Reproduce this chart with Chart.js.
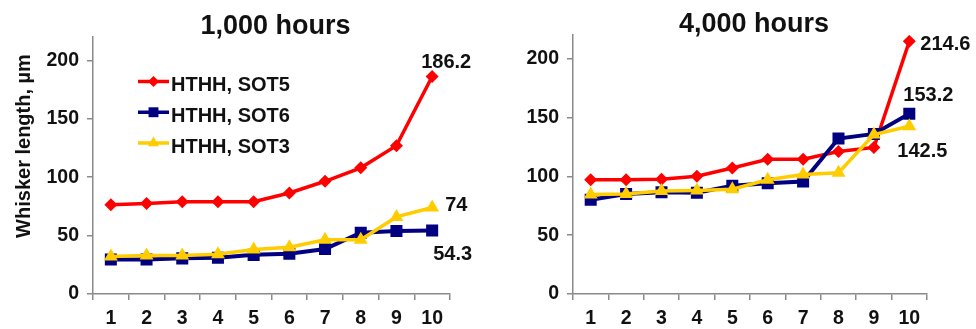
<!DOCTYPE html>
<html>
<head>
<meta charset="utf-8">
<script src="https://cdn.jsdelivr.net/npm/chart.js@4.4.1/dist/chart.umd.min.js"></script>
<style>
  html, body { margin: 0; padding: 0; background: #ffffff; }
  #wrap { display: flex; width: 976px; height: 329px; }
  canvas { display: block; }
</style>
</head>
<body>
<div id="wrap">
  <canvas id="c1000" width="488" height="329"></canvas>
  <canvas id="c4000" width="488" height="329"></canvas>
</div>
<script>
// Sample position along the x axis
const categories = ['1', '2', '3', '4', '5', '6', '7', '8', '9', '10'];
const seriesNames = ['HTHH, SOT5', 'HTHH, SOT6', 'HTHH, SOT3'];
const panelTitles = ['1,000 hours', '4,000 hours'];
const yAxisTitle = 'Whisker length, \u00b5m';
const yTickValues = [0, 50, 100, 150, 200];

// Whisker length (µm) after 1,000 hours
const sot5_1000h = [76.5, 77.5, 79, 79, 79, 86.5, 96.5, 108, 127, 186.2];
const sot6_1000h = [29.5, 29.5, 30.5, 31, 33.5, 34.5, 38.5, 52.5, 54, 54.3];
const sot3_1000h = [32, 33, 33, 34, 38, 40, 46.5, 46.5, 66, 74];

// Whisker length (µm) after 4,000 hours
const sot5_4000h = [97, 97, 97.5, 100, 107, 114.5, 114.5, 121, 124.5, 214.6];
const sot6_4000h = [80, 85, 86.5, 86, 92, 94, 95.5, 132, 136, 153.2];
const sot3_4000h = [84.5, 85, 87.5, 88, 89, 97, 101.5, 103, 135.5, 142.5];

const FONT = '"Liberation Sans", Arial, Helvetica, sans-serif';
const TEXT = '#111111';
const AXIS = '#8a8a8a';

const styles = [
  { color: '#ff0000', pointStyle: 'rectRot', radius: 6.5, width: 3.5, order: 3, legendR: 5.5 },
  { color: '#000080', pointStyle: 'rect', radius: 8.5, width: 4, order: 2, legendR: 7 },
  { color: '#ffcc00', pointStyle: 'triangle', radius: 8, width: 3.5, order: 1, legendR: 6.5 }
];

function legendMarker(ctx, style, x, y, r) {
  ctx.save();
  ctx.fillStyle = style.color;
  ctx.beginPath();
  if (style.pointStyle === 'rectRot') {
    ctx.moveTo(x, y - r); ctx.lineTo(x + r, y); ctx.lineTo(x, y + r); ctx.lineTo(x - r, y);
  } else if (style.pointStyle === 'rect') {
    const s = r * Math.SQRT1_2;
    ctx.rect(x - s, y - s, 2 * s, 2 * s);
  } else {
    const h = r * Math.sin(Math.PI / 3);
    ctx.moveTo(x, y - r); ctx.lineTo(x + h, y + r / 2); ctx.lineTo(x - h, y + r / 2);
  }
  ctx.closePath();
  ctx.fill();
  ctx.restore();
}

// Titles, axis title, inline legend and end-of-series value labels
const annotations = {
  id: 'annotations',
  afterDatasetsDraw(chart, args, opts) {
    const ctx = chart.ctx;
    const area = chart.chartArea;
    ctx.save();
    ctx.fillStyle = TEXT;

    ctx.font = 'bold 27px ' + FONT;
    ctx.textAlign = 'center';
    ctx.textBaseline = 'alphabetic';
    ctx.fillText(opts.title, (area.left + area.right) / 2 + 4, opts.titleY);

    if (opts.yTitle) {
      ctx.save();
      ctx.translate(opts.yTitleX, opts.yTitleY);
      ctx.rotate(-Math.PI / 2);
      ctx.font = 'bold 20px ' + FONT;
      ctx.textAlign = 'center';
      ctx.textBaseline = 'middle';
      ctx.fillText(opts.yTitle, 0, 0);
      ctx.restore();
    }

    if (opts.legend) {
      const lg = opts.legend;
      chart.data.datasets.forEach((ds, i) => {
        const st = styles[i];
        const y = lg.y + i * lg.gap;
        ctx.strokeStyle = st.color;
        ctx.lineWidth = 3.5;
        ctx.beginPath();
        ctx.moveTo(lg.x, y);
        ctx.lineTo(lg.x + lg.len, y);
        ctx.stroke();
        legendMarker(ctx, st, lg.x + lg.len / 2, y, st.legendR);
        ctx.fillStyle = TEXT;
        ctx.font = 'bold 20px ' + FONT;
        ctx.textAlign = 'left';
        ctx.textBaseline = 'alphabetic';
        ctx.fillText(ds.label, lg.x + lg.len + 2, y + 9.5);
      });
    }

    ctx.font = 'bold 20px ' + FONT;
    ctx.textAlign = 'left';
    ctx.textBaseline = 'alphabetic';
    ctx.fillStyle = TEXT;
    (opts.valueLabels || []).forEach(l => {
      const meta = chart.getDatasetMeta(l.dataset);
      const pt = meta.data[l.index];
      const v = chart.data.datasets[l.dataset].data[l.index];
      ctx.fillText(String(v), pt.x + l.dx, pt.y + l.dy);
    });
    ctx.restore();
  }
};

function makePanel(canvasId, series, yWidth, pad, plugOpts) {
  const datasets = series.map((values, i) => ({
    label: seriesNames[i],
    data: values,
    borderColor: styles[i].color,
    backgroundColor: styles[i].color,
    borderWidth: styles[i].width,
    pointStyle: styles[i].pointStyle,
    pointRadius: styles[i].radius,
    pointBorderWidth: 0,
    pointBackgroundColor: styles[i].color,
    tension: 0,
    order: styles[i].order
  }));
  const tickFont = { family: FONT, size: 19.5, weight: 'bold' };
  return new Chart(document.getElementById(canvasId), {
    type: 'line',
    data: { labels: categories, datasets },
    options: {
      responsive: false,
      animation: false,
      events: [],
      layout: { padding: pad },
      plugins: {
        legend: { display: false },
        tooltip: { enabled: false },
        title: { display: false },
        annotations: plugOpts
      },
      scales: {
        x: {
          type: 'category',
          offset: true,
          grid: { offset: true, drawOnChartArea: false, drawTicks: true, tickLength: 6, color: AXIS, lineWidth: 1.5 },
          border: { display: true, color: AXIS, width: 1.5 },
          ticks: { font: tickFont, color: TEXT, padding: 7, maxRotation: 0, autoSkip: false },
          afterFit(scale) { scale.height = 35; }
        },
        y: {
          min: 0,
          max: 220,
          afterBuildTicks(scale) { scale.ticks = yTickValues.map(v => ({ value: v })); },
          grid: { drawOnChartArea: false, drawTicks: true, tickLength: 6, color: AXIS, lineWidth: 1.5 },
          border: { display: true, color: AXIS, width: 1.5 },
          ticks: { font: tickFont, color: TEXT, padding: 8 },
          afterFit(scale) { scale.width = yWidth; }
        }
      }
    },
    plugins: [annotations]
  });
}

makePanel('c1000', [sot5_1000h, sot6_1000h, sot3_1000h], 93,
  { left: 0, right: 38, top: 37, bottom: 0 },
  {
    title: panelTitles[0], titleY: 34,
    yTitle: yAxisTitle, yTitleX: 24, yTitleY: 146,
    legend: { x: 138, y: 81.5, gap: 30.75, len: 31 },
    valueLabels: [
      { dataset: 0, index: 9, dx: -11, dy: -8 },
      { dataset: 2, index: 9, dx: 13, dy: 3 },
      { dataset: 1, index: 9, dx: 1, dy: 29.5 }
    ]
  });

makePanel('c4000', [sot5_4000h, sot6_4000h, sot3_4000h], 85,
  { left: 0, right: 49, top: 35, bottom: 0 },
  {
    title: panelTitles[1], titleY: 32,
    valueLabels: [
      { dataset: 0, index: 9, dx: 11, dy: 9 },
      { dataset: 1, index: 9, dx: -6, dy: -13 },
      { dataset: 2, index: 9, dx: -12, dy: 31 }
    ]
  });
</script>
</body>
</html>
